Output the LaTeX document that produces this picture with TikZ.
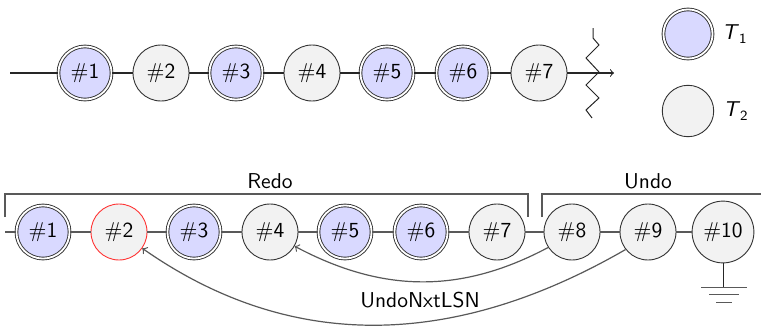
\documentclass[tikz,border=0pt]{standalone}
\usetikzlibrary{positioning}
\begin{document}
\begin{tikzpicture}[
      x=0.0175cm, y=-0.0175cm,
      font=\sffamily\fontsize{10.7}{13}\selectfont,
      rec/.style={circle, draw=black!80, fill=black!5, line width=0.45pt,
        minimum size=0.98cm, inner sep=3.3pt},
      recone/.style={rec, double, double distance=0.9pt, fill=blue!15,
        minimum size=0.93cm},
      linet/.style={draw=black!85, line width=0.5pt},
      lineb/.style={semithick, draw=black!65},
      back/.style={semithick, draw=black!65, ->}
    ]
    \useasboundingbox (0,0) rectangle (761,329);
    % log before the crash
    \path (85,73) node(t1) [recone] {\#1}
    (161,73) node(t2) [rec] {\#2}
    (236,73) node(t3) [recone] {\#3}
    (312,73) node(t4) [rec] {\#4}
    (387,73) node(t5) [recone] {\#5}
    (463,73) node(t6) [recone] {\#6}
    (539,73) node(t7) [rec] {\#7};
    \coordinate (tin) at (10,73);
    \coordinate (tout) at (614,73);
    \draw[linet] (tin) -- (t1);
    \draw[linet] (t1) -- (t2);
    \draw[linet] (t2) -- (t3);
    \draw[linet] (t3) -- (t4);
    \draw[linet] (t4) -- (t5);
    \draw[linet] (t5) -- (t6);
    \draw[linet] (t6) -- (t7);
    \draw[linet, ->] (t7) -- (tout);
    \draw[linet] (593,28) -- (593,38) -- (599,45) -- (586,58) -- (599,72)
      -- (586,85) -- (599,98) -- (586,110) -- (592,118);
    % legend
    \path (688,34) node(l1) [recone, minimum size=0.86cm] {}
    (688,111) node(l2) [rec, minimum size=0.9cm] {};
    \node[right=1pt of l1] (l1t) {\textit{T}$_\mathsf{1}$};
    \node[right=1pt of l2] (l2t) {\textit{T}$_\mathsf{2}$};
    % log after restart
    \path (43,232) node(b1) [recone] {\#1}
    (119,232) node(b2) [rec, draw=red!80] {\#2}
    (194,232) node(b3) [recone] {\#3}
    (270,232) node(b4) [rec] {\#4}
    (345,232) node(b5) [recone] {\#5}
    (421,232) node(b6) [recone] {\#6}
    (497,232) node(b7) [rec] {\#7}
    (572,232) node(b8) [rec] {\#8}
    (648,232) node(b9) [rec] {\#9}
    (723,232) node(b10) [rec] {\#10};
    \coordinate (bin) at (5,232);
    \draw[lineb] (bin) -- (b1);
    \draw[lineb] (b1) -- (b2);
    \draw[lineb] (b2) -- (b3);
    \draw[lineb] (b3) -- (b4);
    \draw[lineb] (b4) -- (b5);
    \draw[lineb] (b5) -- (b6);
    \draw[lineb] (b6) -- (b7);
    \draw[lineb] (b7) -- (b8);
    \draw[lineb] (b8) -- (b9);
    \draw[lineb] (b9) -- (b10);
    % ground
    \draw[linet] (b10.south) -- ++(0,24) coordinate(g);
    \draw[lineb] (g) +(-22,0) -- +(24,0);
    \draw[lineb] (g) +(-14,7) -- +(16,7);
    \draw[lineb] (g) +(-7,15) -- +(9,15);
    % passes
    \draw[lineb] (5,217) -- (5,194) -- (528,194) -- (528,217);
    \draw[lineb] (542,217) -- (542,194) -- (761,194);
    \path (270,181) node(redo) {Redo}
    (648,181) node(undo) {Undo};
    \draw[back] (b8.213) to[out=208, in=-28] (b4.-30);
    \draw[back] (b9.218) to[out=210, in=-35] (b2.-35);
    \path (420,300) node(nxt) {UndoNxtLSN};
  \end{tikzpicture}
\end{document}
